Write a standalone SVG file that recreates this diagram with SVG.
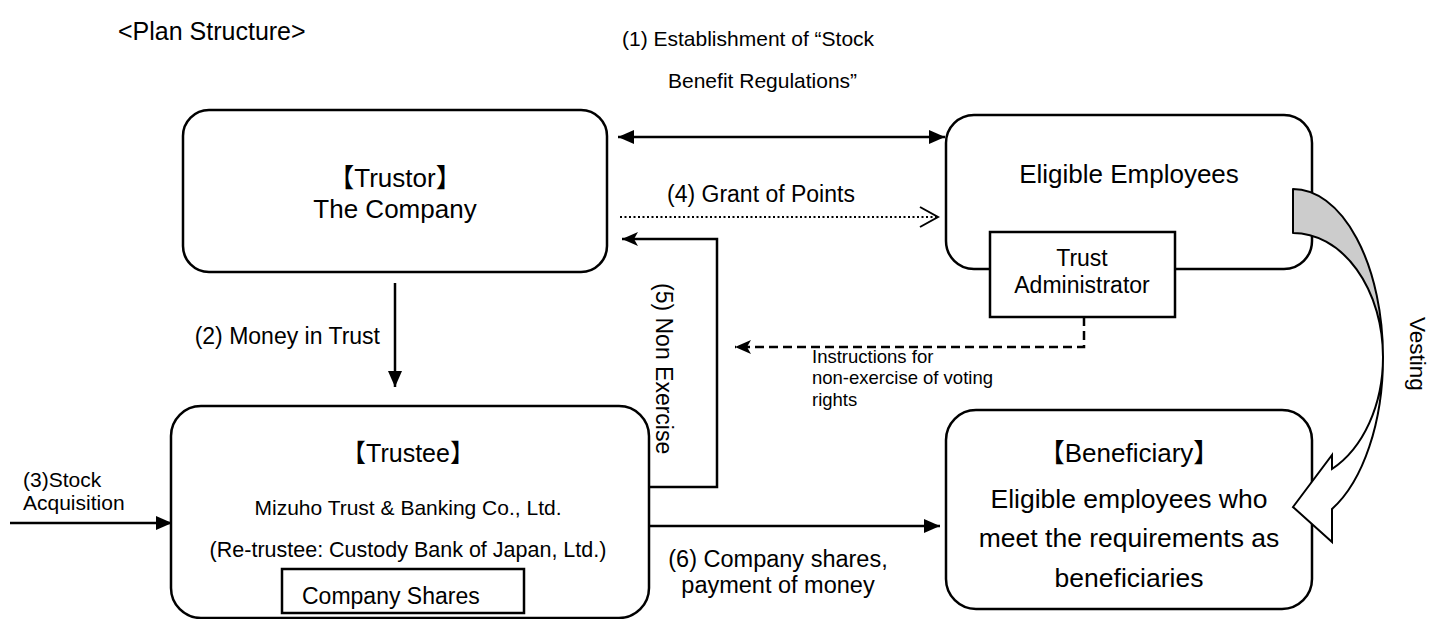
<svg xmlns="http://www.w3.org/2000/svg" width="1431" height="619" viewBox="0 0 1431 619">
<style>
text{font-family:"Liberation Sans",Arial,"Noto Sans CJK JP",sans-serif;fill:#000}
.box{fill:#fff;stroke:#000;stroke-width:2.5}
.c{text-anchor:middle}
.ln{fill:none;stroke:#000;stroke-width:2.5}
</style>
<defs>
<marker id="tri" markerUnits="userSpaceOnUse" markerWidth="16" markerHeight="14" refX="16" refY="7" orient="auto-start-reverse" viewBox="0 0 16 14"><path d="M0,0 L16,7 L0,14 Z" fill="#000"/></marker>
<marker id="stealth" markerUnits="userSpaceOnUse" markerWidth="16" markerHeight="14" refX="16" refY="7" orient="auto" viewBox="0 0 16 14"><path d="M0,0 L16,7 L0,14 L4,7 Z" fill="#000"/></marker>
<marker id="openv" markerUnits="userSpaceOnUse" markerWidth="22" markerHeight="24" refX="20" refY="12" orient="auto" viewBox="0 0 22 24"><path d="M2,2 L20,12 L2,22" fill="none" stroke="#000" stroke-width="2"/></marker>
</defs>
<text x="118" y="40" font-size="25">&lt;Plan Structure&gt;</text>
<text x="622" y="46" font-size="21">(1) Establishment of “Stock</text>
<text x="668" y="88" font-size="21">Benefit Regulations”</text>
<g id="trustor">
<rect class="box" x="183" y="110" width="424" height="162" rx="26"/>
<text class="c" x="395" y="187" font-size="26">【Trustor】</text>
<text class="c" x="395" y="218" font-size="26">The Company</text>
</g>
<g id="eligible">
<rect class="box" x="946" y="115" width="366" height="154" rx="28"/>
<text class="c" x="1129" y="183" font-size="26">Eligible Employees</text>
</g>
<g id="administrator">
<rect class="box" x="990" y="232" width="185" height="85"/>
<text class="c" x="1082" y="266" font-size="23">Trust</text>
<text class="c" x="1082" y="293" font-size="23">Administrator</text>
</g>
<g id="trustee">
<rect class="box" x="171" y="406" width="478" height="212" rx="30"/>
<text class="c" x="408" y="462" font-size="25">【Trustee】</text>
<text class="c" x="408" y="515" font-size="21">Mizuho Trust &amp; Banking Co., Ltd.</text>
<text class="c" x="408" y="557" font-size="21.5">(Re-trustee: Custody Bank of Japan, Ltd.)</text>
<rect class="box" x="282" y="569" width="242" height="44" stroke-width="2"/>
<text x="302" y="604" font-size="23">Company Shares</text>
</g>
<g id="beneficiary">
<rect class="box" x="946" y="410" width="366" height="199" rx="30"/>
<text class="c" x="1129" y="462" font-size="26">【Beneficiary】</text>
<text class="c" x="1129" y="508" font-size="26.5">Eligible employees who</text>
<text class="c" x="1129" y="547" font-size="26.5">meet the requirements as</text>
<text class="c" x="1129" y="587" font-size="26.5">beneficiaries</text>
</g>
<g id="connectors">
<line class="ln" x1="618" y1="137" x2="945" y2="137" marker-start="url(#tri)" marker-end="url(#tri)"/>
<line x1="620" y1="217" x2="938" y2="217" stroke="#000" stroke-width="2" stroke-dasharray="2 2.5" marker-end="url(#openv)"/>
<text x="667" y="202" font-size="23">(4) Grant of Points</text>
<polyline class="ln" points="649,487 717,487 717,239 622,239" marker-end="url(#stealth)"/>
<text transform="translate(656,283) rotate(90)" font-size="23">(5) Non Exercise</text>
<line class="ln" x1="395" y1="283" x2="395" y2="387" marker-end="url(#tri)"/>
<text x="380" y="344" font-size="23" text-anchor="end">(2) Money in Trust</text>
<line class="ln" x1="10" y1="523" x2="172" y2="523" marker-end="url(#tri)"/>
<text x="23" y="487" font-size="21">(3)Stock</text>
<text x="23" y="510" font-size="21">Acquisition</text>
<line class="ln" x1="649" y1="526" x2="940" y2="526" marker-end="url(#tri)"/>
<text class="c" x="778" y="567" font-size="23.5">(6) Company shares,</text>
<text class="c" x="778" y="593" font-size="23.5">payment of money</text>
<polyline class="ln" points="1084,317 1084,347 735,347" stroke-dasharray="9 5" marker-end="url(#stealth)"/>
<text x="812" y="363" font-size="18.5">Instructions for</text>
<text x="812" y="384" font-size="18.5">non-exercise of voting</text>
<text x="812" y="406" font-size="18.5">rights</text>
<path d="M1293,189 A90,168 0 0 1 1383,357 A90,124 0 0 0 1293,233 Z" fill="#ccc" stroke="#000" stroke-width="2" stroke-linejoin="round"/>
<path d="M1383,357 A90,168 0 0 1 1332,509 L1332,542 L1293,507 L1332,455 L1332,469 A90,124 0 0 0 1383,357 Z" fill="#fff" stroke="#000" stroke-width="2" stroke-linejoin="miter"/>
<text transform="translate(1410,317) rotate(90)" font-size="22.5">Vesting</text>
</g>
</svg>
